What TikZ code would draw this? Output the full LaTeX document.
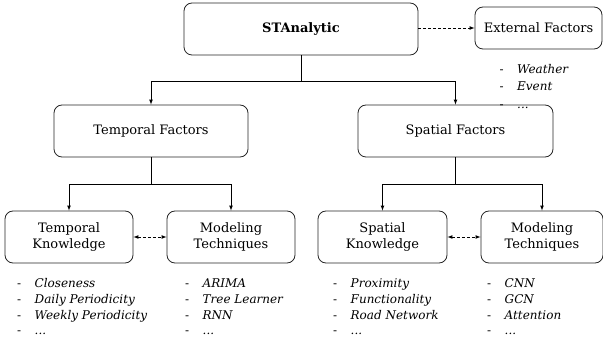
\documentclass[tikz,border=0pt]{standalone}
\usepackage{fontspec}
\setmainfont{DejaVu Serif}
\usetikzlibrary{arrows}
\newcommand{\li}[1]{\makebox[17.5pt][l]{-}\textit{#1}}

\tikzset{
  factor/.style={draw=black!85, rounded corners=8pt, line width=0.8pt,
    align=center, inner sep=0pt, minimum height=52pt,
    font=\fontsize{13}{16}\selectfont},
  listtext/.style={anchor=base west, align=left, inner sep=0pt,
    font=\fontsize{12}{15.7}\selectfont},
  link/.style={line width=0.7pt, -latex},
  hint/.style={line width=0.7pt, dashed, dash pattern=on 3pt off 2pt}
}

\begin{document}
\begin{tikzpicture}[x=1pt, y=-1pt]
  \useasboundingbox (0, 0) rectangle (603, 339);

  % top level
  \node[factor, minimum width=234pt] (root) at (301, 29) {\textbf{STAnalytic}};
  \node[factor, minimum width=127pt, minimum height=42pt] (ext) at (538.5, 28) {External Factors};
  \draw[hint, -latex] (root.east |- ext) -- (ext);

  % second level
  \node[factor, minimum width=194pt] (tf) at (151, 131) {Temporal Factors};
  \node[factor, minimum width=195pt] (sf) at (455.5, 131) {Spatial Factors};
  \coordinate (j0) at (301, 81);
  \draw[line width=0.7pt] (root) -- (j0);
  \draw[link] (j0) -| (tf);
  \draw[link] (j0) -| (sf);

  % third level
  \node[factor, minimum width=128pt] (tk) at (69, 237) {Temporal\\Knowledge};
  \node[factor, minimum width=128pt] (tm) at (231, 237) {Modeling\\Techniques};
  \node[factor, minimum width=129pt] (sk) at (382.5, 237) {Spatial\\Knowledge};
  \node[factor, minimum width=122pt] (sm) at (542, 237) {Modeling\\Techniques};
  \coordinate (j1) at (151, 184);
  \coordinate (j2) at (455.5, 184);
  \draw[line width=0.7pt] (tf) -- (j1);
  \draw[link] (j1) -| (tk);
  \draw[link] (j1) -| (tm);
  \draw[line width=0.7pt] (sf) -- (j2);
  \draw[link] (j2) -| (sk);
  \draw[link] (j2) -| (sm);
  \draw[hint, latex-latex] (tk) -- (tm);
  \draw[hint, latex-latex] (sk) -- (sm);

  % lists (base = baseline of the last line)
  \node[listtext, font=\fontsize{12}{17.5}\selectfont] (extlist) at (499.5, 108.5)
    {\li{Weather}\\\li{Event}\\\li{...}};
  \node[listtext] (tklist) at (17, 335)
    {\li{Closeness}\\\li{Daily Periodicity}\\\li{Weekly Periodicity}\\\li{...}};
  \node[listtext] (tmlist) at (185, 335)
    {\li{ARIMA}\\\li{Tree Learner}\\\li{RNN}\\\li{...}};
  \node[listtext] (sklist) at (333, 335)
    {\li{Proximity}\\\li{Functionality}\\\li{Road Network}\\\li{...}};
  \node[listtext] (smlist) at (487, 335)
    {\li{CNN}\\\li{GCN}\\\li{Attention}\\\li{...}};

\end{tikzpicture}
\end{document}
